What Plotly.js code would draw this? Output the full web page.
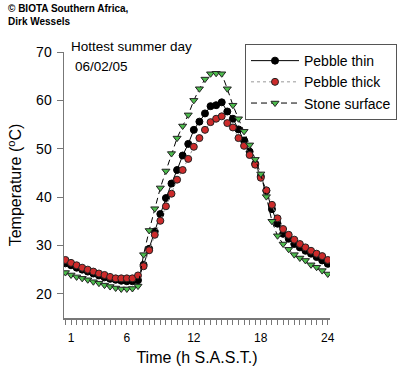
<!DOCTYPE html>
<html>
<head>
<meta charset="utf-8">
<script src="https://cdn.plot.ly/plotly-3.0.1.min.js"></script>
<style>html,body{margin:0;padding:0;background:#fff;}#chart{width:400px;height:367px;}</style>
</head>
<body>
<div id="chart"></div>
<script>
// Time of day (hours, half-hourly readings)
const times = [0.5,1,1.5,2,2.5,3,3.5,4,4.5,5,5.5,6,6.5,7,7.5,8,8.5,9,9.5,10,10.5,11,11.5,12,
               12.5,13,13.5,14,14.5,15,15.5,16,16.5,17,17.5,18,18.5,19,19.5,20,20.5,21,21.5,22,22.5,23,23.5,24];

const pebbleThin = [26.3,25.9,25.4,25.0,24.6,24.2,23.8,23.4,23.1,22.9,22.7,22.6,22.6,22.8,
                    26.0,29.3,32.9,36.5,39.8,42.8,45.6,48.6,51.0,53.9,55.6,57.3,58.8,59.0,59.6,
                    57.7,56.2,54.0,51.7,49.4,46.9,44.3,41.3,37.5,34.5,32.4,31.4,30.3,29.6,28.9,28.3,27.6,26.9,26.2];

const pebbleThick = [27.0,26.4,25.9,25.4,25.0,24.6,24.2,23.9,23.5,23.2,23.2,23.2,23.2,23.8,
                     25.7,29.0,32.2,35.1,38.1,40.7,43.6,45.6,47.9,50.4,52.2,53.9,55.5,56.2,56.7,
                     55.3,54.4,52.2,50.6,48.7,46.7,44.0,41.4,38.4,35.6,33.4,32.2,31.2,30.3,29.6,28.9,28.3,27.8,27.0];

const stoneSurface = [24.4,23.9,23.5,23.2,22.9,22.5,22.2,21.8,21.5,21.2,21.0,21.0,21.1,21.6,
                      28.1,33.1,37.6,41.9,45.4,49.0,52.2,54.7,57.0,60.0,62.4,64.4,65.5,65.6,65.5,
                      62.4,59.0,56.2,53.6,50.8,47.8,44.8,40.1,35.0,32.0,30.3,29.2,28.1,27.4,26.9,26.0,25.5,24.8,24.1];

const labelledHours = [1, 6, 12, 18, 24];
const yTicks = [20, 30, 40, 50, 60, 70];

const FONT = 'Arial, "Liberation Sans", sans-serif';
const AXIS_GREY = '#777777';

const traces = [
  {
    x: times, y: pebbleThin, name: 'Pebble thin', type: 'scatter', mode: 'lines+markers',
    line: {color: '#000000', width: 1, dash: 'solid'},
    marker: {symbol: 'circle', size: 7, color: '#000000', line: {color: '#000000', width: 1}}
  },
  {
    x: times, y: pebbleThick, name: 'Pebble thick', type: 'scatter', mode: 'lines+markers',
    line: {color: '#999999', width: 1, dash: 'dot'},
    marker: {symbol: 'circle', size: 7, color: '#cc2b2b', line: {color: '#222222', width: 1}}
  },
  {
    x: times, y: stoneSurface, name: 'Stone surface', type: 'scatter', mode: 'lines+markers',
    line: {color: '#000000', width: 1, dash: '6px,4px'},
    marker: {symbol: 'triangle-down', size: 7, color: '#4cbb4c', line: {color: '#222222', width: 1}}
  }
];

const layout = {
  width: 400, height: 367,
  margin: {l: 64, r: 70, t: 52, b: 49, autoexpand: false},
  paper_bgcolor: '#ffffff', plot_bgcolor: '#ffffff',
  font: {family: FONT, color: '#000000'},
  showlegend: true,
  legend: {
    xref: 'container', yref: 'container',
    x: 0.6125, y: 0.88, xanchor: 'left', yanchor: 'top',
    bordercolor: '#555555', borderwidth: 1, bgcolor: '#ffffff',
    font: {family: FONT, size: 14, color: '#000000'},
    itemwidth: 48,
    tracegroupgap: 0
  },
  xaxis: {
    range: [0.37, 24.2],
    tickmode: 'array',
    tickvals: times,
    ticktext: times.map(t => labelledHours.includes(t) ? String(t) : ''),
    ticks: 'outside', ticklen: 5, tickwidth: 1, tickcolor: AXIS_GREY,
    ticklabelstandoff: 3,
    showline: true, linecolor: AXIS_GREY, linewidth: 1.5,
    showgrid: false, zeroline: false,
    tickfont: {family: FONT, size: 12, color: '#000000'},
    title: {text: 'Time (h S.A.S.T.)', font: {family: FONT, size: 16, color: '#000000'}, standoff: 8},
    automargin: false
  },
  yaxis: {
    range: [15, 70],
    tickmode: 'array',
    tickvals: yTicks,
    ticktext: yTicks.map(String),
    ticks: 'outside', ticklen: 6, tickwidth: 1, tickcolor: AXIS_GREY,
    ticklabelstandoff: 2,
    showline: true, linecolor: AXIS_GREY, linewidth: 1.5,
    showgrid: false, zeroline: false,
    tickfont: {family: FONT, size: 14, color: '#000000'},
    title: {text: 'Temperature (<sup>o</sup>C)', font: {family: FONT, size: 16, color: '#000000'}, standoff: 10},
    automargin: false
  },
  annotations: [
    {text: '<b>© BIOTA Southern Africa,<br>Dirk Wessels</b>', xref: 'paper', yref: 'paper',
     x: -0.218, y: 1.19, xanchor: 'left', yanchor: 'top', align: 'left', showarrow: false,
     font: {family: FONT, size: 10, color: '#000000'}},
    {text: 'Hottest summer day', xref: 'paper', yref: 'paper',
     x: 0.02, y: 1.02, xanchor: 'left', yanchor: 'middle', align: 'left', showarrow: false,
     font: {family: FONT, size: 13.5, color: '#000000'}},
    {text: '06/02/05', xref: 'paper', yref: 'paper',
     x: 0.032, y: 0.945, xanchor: 'left', yanchor: 'middle', align: 'left', showarrow: false,
     font: {family: FONT, size: 13.5, color: '#000000'}}
  ]
};

Plotly.newPlot('chart', traces, layout, {displayModeBar: false, staticPlot: true});
</script>
</body>
</html>
